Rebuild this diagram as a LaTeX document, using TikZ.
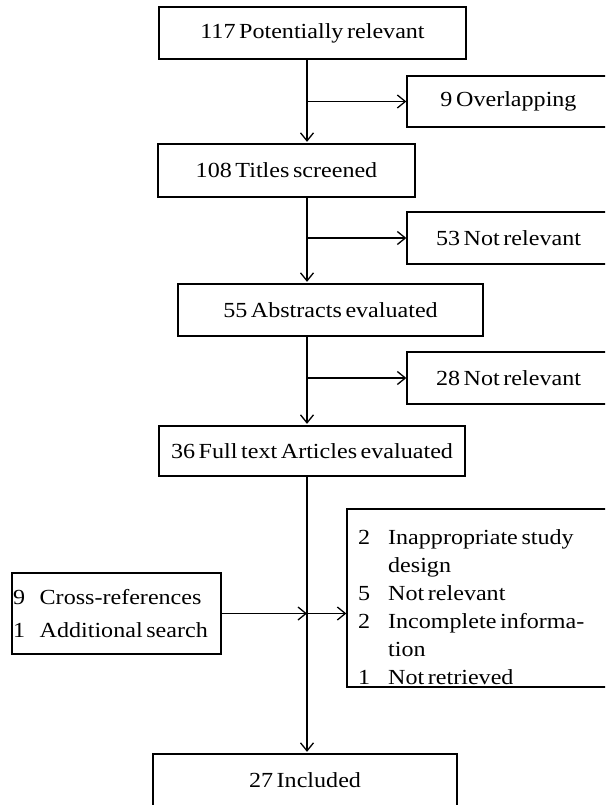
\documentclass[tikz,border=0pt]{standalone}
\usepackage{fontspec}
\setmainfont{Liberation Serif}[FakeStretch=1.12, WordSpace=0.6]
\usetikzlibrary{arrows.meta}
\begin{document}
\begin{tikzpicture}[x=1pt,y=-1pt,
  every node/.style={font=\fontsize{21.5pt}{26pt}\selectfont, inner sep=0pt},
  box/.style={draw=black, line width=1.3pt, align=center},
  conn/.style={line width=1.3pt, -{Straight Barb[length=8pt,width=13pt,line width=1.3pt]}},
  vconn/.style={conn, shorten >=1.5pt},
  listtext/.style={anchor=base west, align=left}]
\useasboundingbox (0,0) rectangle (605,805);
\clip (0,0) rectangle (605,805);
\coordinate (m) at (307,0);
% main boxes
\node[box, minimum width=307pt, minimum height=52pt] (A) at (312.5,33) {117 Potentially relevant};
\node[box, minimum width=203pt, minimum height=51pt] (O1) at (508.5,101.5) {9 Overlapping};
\node[box, minimum width=257pt, minimum height=53pt] (B) at (286.5,170.5) {108 Titles screened};
\node[box, minimum width=203pt, minimum height=52pt] (O2) at (508.5,238) {53 Not relevant};
\node[box, minimum width=305pt, minimum height=52pt] (C) at (330.5,310) {55 Abstracts evaluated};
\node[box, minimum width=203pt, minimum height=52pt] (O3) at (508.5,378) {28 Not relevant};
\node[box, minimum width=306pt, minimum height=50pt] (D) at (312,451) {36 Full text Articles evaluated};
\node[box, minimum width=209pt, minimum height=81pt] (L) at (116.5,613.5) {};
\node[box, minimum width=263pt, minimum height=178pt] (R) at (478.5,598) {};
\node[box, minimum width=304pt, minimum height=52pt] (E) at (305,780) {27 Included};
% list texts
\node[listtext, font=\fontsize{21.5pt}{33pt}\selectfont] (Lt) at (13,604)
  {\begin{tabular}[t]{@{}p{26.5pt}@{}l@{}}9 & Cross-references\\ 1 & Additional search\end{tabular}};
\node[listtext, font=\fontsize{21.5pt}{28pt}\selectfont] (Rt) at (358,544)
  {\begin{tabular}[t]{@{}p{30pt}@{}l@{}}2 & Inappropriate study\\ & design\\ 5 & Not relevant\\ 2 & Incomplete informa-\\ & tion\\ 1 & Not retrieved\end{tabular}};
% connectors
\draw[vconn] (A.south -| m) -- (B.north -| m);
\draw[conn] (O1.west -| m) -- (O1.west);
\draw[vconn] (B.south -| m) -- (C.north -| m);
\draw[conn] (O2.west -| m) -- (O2.west);
\draw[vconn] (C.south -| m) -- (D.north -| m);
\draw[conn] (O3.west -| m) -- (O3.west);
\draw[vconn] (D.south -| m) -- (E.north -| m);
\draw[conn] (L.east) -- (L.east -| m);
\draw[conn] (L.east -| m) -- (L.east -| R.west);
\end{tikzpicture}
\end{document}
